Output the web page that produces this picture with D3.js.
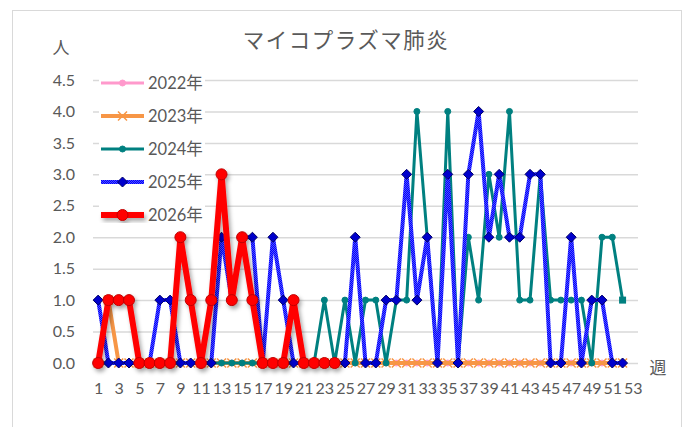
<!DOCTYPE html>
<html lang="ja">
<head>
<meta charset="utf-8">
<title>マイコプラズマ肺炎</title>
<script src="https://cdnjs.cloudflare.com/ajax/libs/d3/7.8.5/d3.min.js"></script>
<style>
  body { margin: 0; background: #fff; }
  svg text { font-family: Lato, "Noto Sans CJK JP", sans-serif; fill: #595959; }
</style>
</head>
<body>
<div id="chart"></div>
<script>
// weeks 1..53 on the category axis
const weeks = d3.range(1, 54);
const xTickWeeks = weeks.filter(w => w % 2 === 1);
const yTicks = [0, 0.5, 1, 1.5, 2, 2.5, 3, 3.5, 4, 4.5];

const seriesNames = ['2022年', '2023年', '2024年', '2025年', '2026年'];

const v2022 = [0,0,0,0,0,0,0,0,0,0,0,0,0,0,0,0,0,0,0,0,0,0,0,0,0,0,
               0,0,0,0,0,0,0,0,0,0,0,0,0,0,0,0,0,0,0,0,0,0,0,0,0,0];
const v2023 = [0,1,0,0,0,0,0,0,0,0,0,0,0,0,0,0,0,0,0,0,0,0,0,0,0,0,
               0,0,0,0,0,0,0,0,0,0,0,0,0,0,0,0,0,0,0,0,0,0,0,0,0,0];
const v2024 = [0,0,0,0,0,0,0,0,0,0,0,0,0,0,0,0,0,0,0,0,0,0,1,0,1,0,
               1,1,0,1,1,4,2,0,4,0,2,1,3,2,4,1,1,3,1,1,1,1,0,2,2,1];
const v2025 = [1,0,0,0,0,0,1,1,0,0,0,0,2,1,2,2,0,2,1,0,0,0,0,0,0,2,
               0,0,1,1,3,1,2,0,3,0,3,4,2,3,2,2,3,3,0,0,2,0,1,1,0,0];
const v2026 = [0,1,1,1,0,0,0,0,2,1,0,1,3,1,2,1,0,0,0,1,0,0,0,0];

const allValues = [v2022, v2023, v2024, v2025, v2026];

const width = 690, height = 427;
const plotLeft = 93, plotRight = 638, plotTop = 80, plotBottom = 363;

const svg = d3.select('#chart').append('svg')
  .attr('width', width)
  .attr('height', height);

const defs = svg.append('defs');
const shadow = defs.append('filter').attr('id', 'shadow')
  .attr('x', '-20%').attr('y', '-20%').attr('width', '140%').attr('height', '140%');
shadow.append('feDropShadow')
  .attr('dx', 2).attr('dy', 3).attr('stdDeviation', 2)
  .attr('flood-color', '#000').attr('flood-opacity', 0.35);

// blue line looks textured in the original
const pat = defs.append('pattern').attr('id', 'bluePat')
  .attr('patternUnits', 'userSpaceOnUse').attr('width', 2).attr('height', 2);
pat.append('rect').attr('width', 2).attr('height', 2).attr('fill', '#0000ff');
pat.append('rect').attr('width', 1).attr('height', 1).attr('fill', '#5050ff');
pat.append('rect').attr('x', 1).attr('y', 1).attr('width', 1).attr('height', 1).attr('fill', '#5050ff');

// outer frame
svg.append('rect')
  .attr('x', 12.5).attr('y', 10.5)
  .attr('width', 669).attr('height', 430)
  .attr('fill', 'none')
  .attr('stroke', '#d9d9d9');

const x = d3.scalePoint().domain(weeks).range([plotLeft, plotRight]).padding(0.5);
const y = d3.scaleLinear().domain([0, 4.5]).range([plotBottom, plotTop]);

// y axis + gridlines
const yAxis = svg.append('g')
  .attr('transform', `translate(${plotLeft},0)`)
  .call(d3.axisLeft(y).tickValues(yTicks).tickFormat(d3.format('.1f'))
    .tickSize(-(plotRight - plotLeft)).tickPadding(18));
yAxis.select('.domain').remove();
yAxis.selectAll('line').attr('stroke', '#d9d9d9').attr('stroke-width', 1.5);
yAxis.selectAll('text').style('font-size', '16px');

// x axis labels
const xAxis = svg.append('g')
  .attr('transform', `translate(0,${plotBottom})`)
  .call(d3.axisBottom(x).tickValues(xTickWeeks).tickSize(0).tickPadding(20));
xAxis.select('.domain').remove();
xAxis.selectAll('text').style('font-size', '16px');

svg.append('text')
  .attr('x', 346).attr('y', 48)
  .attr('text-anchor', 'middle')
  .style('font-size', '21.5px')
  .style('letter-spacing', '1.5px')
  .text('マイコプラズマ肺炎');

svg.append('text')
  .attr('x', 61).attr('y', 54)
  .attr('text-anchor', 'middle')
  .style('font-size', '17px')
  .text('人');

svg.append('text')
  .attr('x', 658).attr('y', 374)
  .attr('text-anchor', 'middle')
  .style('font-size', '17px')
  .text('週');

const styles = [
  { color: '#ff99cc', width: 3, marker: 'circle', r: 3, fill: '#ff99cc', stroke: '#ff99cc' },
  { color: '#f79646', width: 4, marker: 'x', r: 4.5, fill: 'none', stroke: '#f79646' },
  { color: '#008080', width: 3, marker: 'circle', r: 3, fill: '#008080', stroke: '#008080' },
  { color: 'url(#bluePat)', width: 4, marker: 'diamond', r: 5, fill: '#0000cc', stroke: '#000066' },
  { color: '#ff0000', width: 6, marker: 'circle', r: 5.5, fill: '#ff0000', stroke: '#c00000' }
];

function drawMarker(g, type, cx, cy, st, square) {
  if (square) {
    g.append('rect').attr('x', cx - 3.5).attr('y', cy - 3.5)
      .attr('width', 7).attr('height', 7).attr('fill', st.fill);
  } else if (type === 'circle') {
    g.append('circle').attr('cx', cx).attr('cy', cy).attr('r', st.r)
      .attr('fill', st.fill).attr('stroke', st.stroke).attr('stroke-width', 1);
  } else if (type === 'diamond') {
    const r = st.r;
    g.append('path')
      .attr('d', `M${cx},${cy - r}L${cx + r},${cy}L${cx},${cy + r}L${cx - r},${cy}Z`)
      .attr('fill', st.fill).attr('stroke', st.stroke).attr('stroke-width', 1);
  } else if (type === 'x') {
    const r = st.r;
    g.append('path')
      .attr('d', `M${cx - r},${cy - r}L${cx + r},${cy + r}M${cx - r},${cy + r}L${cx + r},${cy - r}`)
      .attr('fill', 'none').attr('stroke', st.stroke).attr('stroke-width', 1.5);
  }
}

const line = d3.line()
  .x((d, i) => x(weeks[i]))
  .y(d => y(d));

allValues.forEach((vals, s) => {
  const st = styles[s];
  const g = svg.append('g');
  if (s === 4) g.attr('filter', 'url(#shadow)');
  g.append('path')
    .datum(vals)
    .attr('d', line)
    .attr('fill', 'none')
    .attr('stroke', st.color)
    .attr('stroke-width', st.width)
    .attr('stroke-linejoin', 'round');
  vals.forEach((v, i) => {
    const last = s === 2 && i === vals.length - 1;
    drawMarker(g, st.marker, x(weeks[i]), y(v), st, last);
  });
});

// legend with white background
const legend = svg.append('g');
legend.append('rect')
  .attr('x', 99).attr('y', 70)
  .attr('width', 106).attr('height', 160)
  .attr('fill', '#fff');
seriesNames.forEach((name, s) => {
  const st = styles[s];
  const ly = 83 + s * 33;
  const lg = legend.append('g');
  if (s === 4) lg.attr('filter', 'url(#shadow)');
  lg.append('line')
    .attr('x1', 101).attr('x2', 144)
    .attr('y1', ly).attr('y2', ly)
    .attr('stroke', st.color).attr('stroke-width', st.width);
  drawMarker(lg, st.marker, 122.5, ly, st, false);
  legend.append('text')
    .attr('x', 148).attr('y', ly + 6)
    .style('font-size', '16.5px')
    .text(name);
});
</script>
</body>
</html>
